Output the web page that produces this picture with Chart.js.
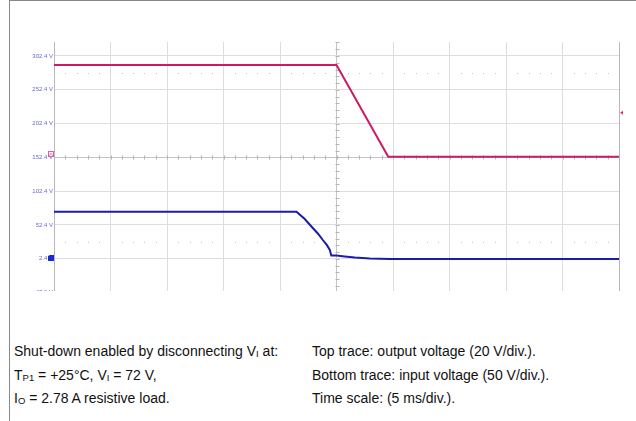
<!DOCTYPE html>
<html>
<head>
<meta charset="utf-8">
<script src="https://cdn.jsdelivr.net/npm/chart.js@4/dist/chart.umd.min.js"></script>
<style>
  html, body { margin: 0; padding: 0; background: #fff; }
  body { width: 636px; height: 421px; position: relative; overflow: hidden; font-family: "Liberation Sans", Arial, sans-serif; }
  #frame { position: absolute; left: 9px; top: 0; width: 640px; height: 430px; border-left: 1px solid #888; border-top: 1px solid #888; }
  #scope { position: absolute; left: 0; top: 0; width: 636px; height: 291px; overflow: hidden; }
  #scope canvas { position: absolute; left: 0; top: 0; }
  .note { position: absolute; font-size: 14px; color: #111; white-space: nowrap; line-height: 1; }
  .note sub { font-size: 9.5px; vertical-align: -1px; line-height: 0; }
</style>
</head>
<body>
<div id="frame"></div>
<div id="scope"><canvas id="c" width="636" height="300"></canvas></div>

<div class="note" style="left:14px; top:344px;">Shut-down enabled by disconnecting V<sub>I</sub> at:</div>
<div class="note" style="left:14px; top:368px;">T<sub>P1</sub> = +25°C, V<sub>I</sub> = 72 V,</div>
<div class="note" style="left:14px; top:391px;">I<sub>O</sub> = 2.78 A resistive load.</div>
<div class="note" style="left:312px; top:344px;">Top trace: output voltage (20 V/div.).</div>
<div class="note" style="left:312px; top:368px;">Bottom trace: input voltage (50 V/div.).</div>
<div class="note" style="left:312px; top:391px;">Time scale: (5 ms/div.).</div>

<script>
// Time axis (ms), 5 ms per division, trigger at 0
const timeDivisions = [-25, -20, -15, -10, -5, 0, 5, 10, 15, 20, 25];
// Voltage graticule labels
const voltTicks = [302.4, 252.4, 202.4, 152.4, 102.4, 52.4, 2.4, -47.6];

// Output voltage trace (top)
const outTime = [-25, 0, 4.58, 25];
const outVolt = [289.1, 289.1, 153.5, 153.5];

// Input voltage trace (bottom)
const inTime = [-25, -3.54, -2.81, -2.10, -1.65, -1.21, -0.86, -0.59, -0.46, 0, 0.73, 1.62, 2.95, 4.72, 25];
const inVolt = [72.1, 72.1, 61.3, 48.0, 39.9, 30.2, 22.9, 15.4, 7.3, 7.3, 5.8, 4.3, 2.8, 2.2, 2.2];

// Channel markers: reference levels and trigger level
const outRefLevel = 152.4;
const inRefLevel = 2.4;
const triggerLevel = 218.5;
// Graticule dot rows
const dotRows = [277.4, 27.4];

const Y_MIN = -47.6, Y_MAX = 323.1;
const RED = '#cc1a66', BLUE = '#1c1ca8';

const toXY = (xs, ys) => xs.map((x, i) => ({ x: x, y: ys[i] }));

const scopeDecor = {
  id: 'scopeDecor',
  beforeDatasetsDraw(chart) {
    const { ctx, scales: { x, y } } = chart;
    const cx = Math.round(x.getPixelForValue(0)) + 0.5;
    const cy = Math.round(y.getPixelForValue(152.4)) + 0.5;
    ctx.save();
    ctx.strokeStyle = '#b4b4b4';
    ctx.lineWidth = 1;
    ctx.beginPath();
    // minor ticks on the vertical centre line (every 10 V)
    for (let k = 0; Y_MIN + k * 10 <= Y_MAX; k++) {
      const py = Math.round(y.getPixelForValue(Y_MIN + k * 10)) + 0.5;
      ctx.moveTo(cx - 2, py); ctx.lineTo(cx + 2, py);
    }
    // minor ticks on the horizontal centre line (every 1 ms)
    for (let t = -25; t <= 25; t += 1) {
      const px = Math.round(x.getPixelForValue(t)) + 0.5;
      ctx.moveTo(px, cy - 2); ctx.lineTo(px, cy + 2);
    }
    ctx.stroke();
    // dotted graticule rows
    ctx.fillStyle = '#c4c4c4';
    dotRows.forEach(v => {
      const py = Math.round(y.getPixelForValue(v));
      for (let t = -25; t < 25; t += 1) {
        if (t % 5 === 0) continue;
        const px = Math.round(x.getPixelForValue(t));
        ctx.fillRect(px, py, 1, 1);
      }
    });
    ctx.restore();
  },
  afterDraw(chart) {
    const { ctx, scales: { x, y }, chartArea } = chart;
    ctx.save();
    // output channel reference marker
    const ry = Math.round(y.getPixelForValue(outRefLevel));
    ctx.strokeStyle = '#e060a0';
    ctx.lineWidth = 1;
    ctx.strokeRect(chartArea.left - 5.5, ry - 5.5, 5, 5);
    ctx.beginPath();
    ctx.moveTo(chartArea.left - 4.5, ry - 3); ctx.lineTo(chartArea.left - 1.5, ry - 3);
    ctx.stroke();
    // input channel reference marker
    const by = Math.round(y.getPixelForValue(inRefLevel));
    ctx.fillStyle = '#1a2ad0';
    ctx.beginPath();
    ctx.moveTo(chartArea.left - 6, by - 3);
    ctx.lineTo(chartArea.left - 4, by - 4);
    ctx.lineTo(chartArea.left, by - 4);
    ctx.lineTo(chartArea.left, by + 2);
    ctx.lineTo(chartArea.left - 6, by + 2);
    ctx.closePath();
    ctx.fill();
    // trigger level marker
    const ty = y.getPixelForValue(triggerLevel);
    ctx.fillStyle = '#e0307a';
    ctx.beginPath();
    ctx.moveTo(chartArea.right + 1, ty);
    ctx.lineTo(chartArea.right + 4, ty - 2);
    ctx.lineTo(chartArea.right + 4, ty + 2);
    ctx.closePath();
    ctx.fill();
    ctx.restore();
  }
};

new Chart(document.getElementById('c'), {
  type: 'line',
  data: {
    datasets: [
      { label: 'Output voltage', data: toXY(outTime, outVolt), borderColor: RED, borderWidth: 2, pointRadius: 0, tension: 0 },
      { label: 'Input voltage', data: toXY(inTime, inVolt), borderColor: BLUE, borderWidth: 2, pointRadius: 0, tension: 0 }
    ]
  },
  options: {
    responsive: false,
    animation: false,
    devicePixelRatio: 1,
    layout: { padding: { left: 0, right: 17, top: 42, bottom: 7.4 } },
    plugins: { legend: { display: false }, tooltip: { enabled: false } },
    scales: {
      x: {
        type: 'linear', min: -25, max: 25,
        afterBuildTicks: s => { s.ticks = timeDivisions.map(v => ({ value: v })); },
        afterFit: s => { s.height = 0; },
        ticks: { display: false },
        border: { display: false },
        grid: {
          drawTicks: false,
          color: c => (c.tick && (c.tick.value === -25 || c.tick.value === 25)) ? '#b8b8b8' : (c.tick && c.tick.value === 0 ? '#c4c4c4' : '#dddddd'),
          lineWidth: 1
        }
      },
      y: {
        type: 'linear', min: Y_MIN, max: Y_MAX,
        afterBuildTicks: s => { s.ticks = voltTicks.map(v => ({ value: v })); },
        afterFit: s => { s.width = 54; },
        ticks: {
          padding: 1,
          font: { family: 'Liberation Sans, Arial, sans-serif', size: 6 },
          color: '#6a6ad2',
          callback: v => v + ' V'
        },
        border: { display: true, color: '#b8b8b8' },
        grid: {
          drawTicks: false,
          color: c => (c.tick && c.tick.value === 152.4) ? '#c4c4c4' : '#dddddd'
        }
      }
    }
  },
  plugins: [scopeDecor]
});
</script>
</body>
</html>
